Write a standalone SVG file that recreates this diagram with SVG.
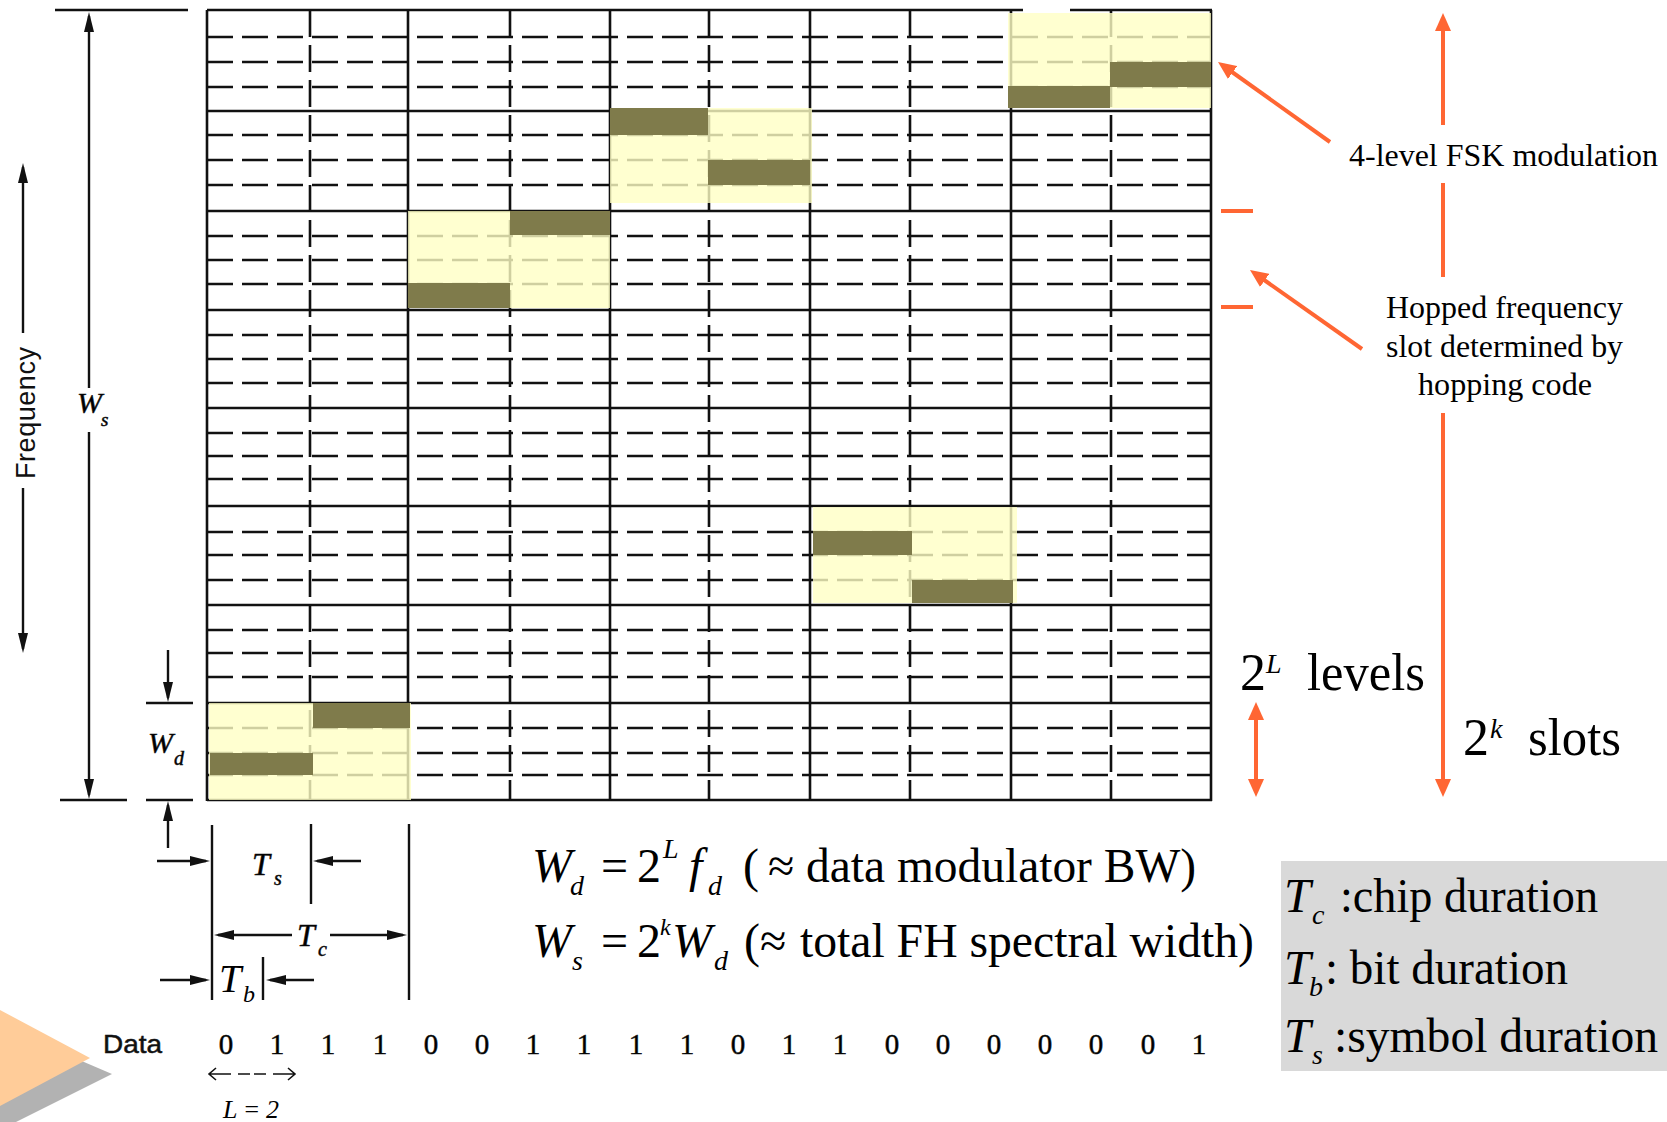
<svg xmlns="http://www.w3.org/2000/svg" width="1667" height="1122" viewBox="0 0 1667 1122">
  <style>
    .solid { stroke: #111; stroke-width: 2.6; fill: none; }
    .hdash { stroke: #111; stroke-width: 2.4; stroke-dasharray: 26 9; fill: none; }
    .vdash { stroke: #111; stroke-width: 2.6; stroke-dasharray: 27 8; fill: none; }
    .hl { fill: #FFFFC4; fill-opacity: 0.8; }
    .bar { fill: #7F7B4B; }
    .ink { stroke: #111; stroke-width: 2.4; fill: none; }
    .ink-arrow { stroke: #111; stroke-width: 2.4; fill: none; marker-end: url(#blackHead); }
    .org { stroke: #FF6633; stroke-width: 4; fill: none; }
    .org-arrow { stroke: #FF6633; stroke-width: 4; fill: none; marker-end: url(#orangeHead); }
    .serif { font-family: "Liberation Serif", "Times New Roman", serif; fill: #000; }
    .sans { font-family: "Liberation Sans", Arial, sans-serif; fill: #111; }
    .it { font-style: italic; }
    .scan { stroke: #111; stroke-width: 0.5; }
  </style>
  <defs>
    <marker id="blackHead" viewBox="0 0 20 10" refX="16" refY="5" markerWidth="20" markerHeight="10" markerUnits="userSpaceOnUse" orient="auto-start-reverse">
      <path d="M0,0 L20,5 L0,10 z" fill="#111"/>
    </marker>
    <marker id="orangeHead" viewBox="0 0 18 16" refX="12" refY="8" markerWidth="18" markerHeight="16" markerUnits="userSpaceOnUse" orient="auto-start-reverse">
      <path d="M0,0 L18,8 L0,16 z" fill="#FF6633"/>
    </marker>
  </defs>

  <rect width="1667" height="1122" fill="#fff"/>

  <!-- time/frequency grid: 8 hop slots x 10 symbol intervals -->
  <g id="grid">
    <g class="hdash">
      <path d="M207,37H1211M207,62H1211M207,87H1211"/>
      <path d="M207,135H1211M207,160H1211M207,185H1211"/>
      <path d="M207,236H1211M207,260H1211M207,284H1211"/>
      <path d="M207,335H1211M207,359H1211M207,383H1211"/>
      <path d="M207,433H1211M207,456H1211M207,479H1211"/>
      <path d="M207,532H1211M207,555H1211M207,580H1211"/>
      <path d="M207,630H1211M207,653H1211M207,677H1211"/>
      <path d="M207,728H1211M207,753H1211M207,775H1211"/>
    </g>
    <g class="solid">
      <path d="M207,10H1023M1070,10H1212"/>
      <path d="M207,111H1212M207,211H1212M207,310H1212M207,408H1212M207,506H1212M207,605H1212M207,703H1212M207,800H1212"/>
      <path d="M207,10V801M408,10V801M610,10V801M810,10V801M1011,10V801M1211,10V801"/>
    </g>
    <path class="vdash" d="M310,10V801M510,10V801M709,10V801M910,10V801M1111,10V801"/>
  </g>

  <!-- hopped FSK tones: one slot, two symbols per chip -->
  <g id="hop-1">
    <rect class="hl" x="209" y="703" width="202" height="97"/>
    <rect class="bar" x="210" y="753" width="103" height="22"/>
    <rect class="bar" x="313" y="703" width="97" height="25"/>
  </g>
  <g id="hop-2">
    <rect class="hl" x="408" y="211" width="202" height="97"/>
    <rect class="bar" x="408" y="283" width="102" height="25"/>
    <rect class="bar" x="510" y="211" width="100" height="24"/>
  </g>
  <g id="hop-3">
    <rect class="hl" x="610" y="108" width="202" height="95"/>
    <rect class="bar" x="610" y="108" width="98" height="27"/>
    <rect class="bar" x="708" y="160" width="102" height="25"/>
  </g>
  <g id="hop-4">
    <rect class="hl" x="813" y="507" width="204" height="96"/>
    <rect class="bar" x="813" y="531" width="99" height="24"/>
    <rect class="bar" x="912" y="580" width="101" height="23"/>
  </g>
  <g id="hop-5">
    <rect class="hl" x="1008" y="13" width="203" height="95"/>
    <rect class="bar" x="1008" y="86" width="102" height="22"/>
    <rect class="bar" x="1110" y="62" width="101" height="25"/>
  </g>

  <!-- frequency axis and bandwidth dimensions -->
  <g id="frequency-axis">
    <path class="ink-arrow" d="M23,333V167"/>
    <path class="ink-arrow" d="M23,488V649"/>
    <text class="sans" font-size="27" text-anchor="middle" textLength="132" transform="translate(35,413) rotate(-90)">Frequency</text>
  </g>
  <g id="ws-dimension">
    <path class="ink" d="M55,10H188M60,800H127"/>
    <path class="ink-arrow" d="M89,388V16"/>
    <path class="ink-arrow" d="M89,432V795"/>
    <text class="serif it scan" font-size="30" x="77" y="413">W</text>
    <text class="serif it scan" font-size="19" x="101" y="426">s</text>
  </g>
  <g id="wd-dimension">
    <path class="ink" d="M146,703H193M146,800H193"/>
    <path class="ink-arrow" d="M168,650V698"/>
    <path class="ink-arrow" d="M168,848V805"/>
    <text class="serif it scan" font-size="30" x="148" y="753">W</text>
    <text class="serif it scan" font-size="20" x="174" y="765">d</text>
  </g>

  <!-- time dimensions -->
  <g id="time-dimensions">
    <path class="ink" d="M212,825V1000M311,824V904M409,824V1000M263,957V1000"/>
    <path class="ink-arrow" d="M157,861H206"/>
    <path class="ink-arrow" d="M361,861H317"/>
    <path class="ink-arrow" d="M292,935H218"/>
    <path class="ink-arrow" d="M330,935H403"/>
    <path class="ink-arrow" d="M160,980H206"/>
    <path class="ink-arrow" d="M314,980H270"/>
    <text class="serif it scan" font-size="32" x="252" y="875">T</text>
    <text class="serif it scan" font-size="20" x="274" y="885">s</text>
    <text class="serif it scan" font-size="32" x="297" y="946">T</text>
    <text class="serif it scan" font-size="20" x="318" y="956">c</text>
    <text class="serif it" font-size="40" x="219" y="992">T</text>
    <text class="serif it" font-size="24" x="243" y="1002">b</text>
  </g>

  <!-- data bit sequence -->
  <g id="data-row">
    <text class="sans scan" font-size="26" x="103" y="1053" textLength="59" lengthAdjust="spacingAndGlyphs">Data</text>
    <g class="serif scan" font-size="29" text-anchor="middle">
      <text x="226" y="1054">0</text><text x="277" y="1054">1</text><text x="328" y="1054">1</text><text x="380" y="1054">1</text>
      <text x="431" y="1054">0</text><text x="482" y="1054">0</text><text x="533" y="1054">1</text><text x="584" y="1054">1</text>
      <text x="636" y="1054">1</text><text x="687" y="1054">1</text><text x="738" y="1054">0</text><text x="789" y="1054">1</text>
      <text x="840" y="1054">1</text><text x="892" y="1054">0</text><text x="943" y="1054">0</text><text x="994" y="1054">0</text>
      <text x="1045" y="1054">0</text><text x="1096" y="1054">0</text><text x="1148" y="1054">0</text><text x="1199" y="1054">1</text>
    </g>
    <path stroke="#111" stroke-width="1.6" fill="none" d="M209,1074H231M216,1068L209,1074L216,1080M238,1074H250M254,1074H266M273,1074H295M288,1068L295,1074L288,1080"/>
    <text class="serif it" font-size="26" x="223" y="1118" textLength="56">L = 2</text>
  </g>

  <!-- bandwidth formulas -->
  <g id="formulas" class="serif" font-size="48">
    <text class="it" x="532" y="882">W</text>
    <text class="it" font-size="28" x="570" y="895">d</text>
    <text x="601" y="882">=</text>
    <text x="637" y="882">2</text>
    <text class="it" font-size="28" x="663" y="858">L</text>
    <text class="it" x="689" y="882">f</text>
    <text class="it" font-size="28" x="708" y="895">d</text>
    <text x="743" y="882">(</text>
    <text x="768" y="882">≈</text>
    <text x="806" y="882" textLength="390" lengthAdjust="spacingAndGlyphs">data modulator BW)</text>

    <text class="it" x="532" y="957">W</text>
    <text class="it" font-size="28" x="572" y="970">s</text>
    <text x="601" y="957">=</text>
    <text x="637" y="957">2</text>
    <text class="it" font-size="24" x="660" y="935">k</text>
    <text class="it" x="672" y="957">W</text>
    <text class="it" font-size="28" x="714" y="970">d</text>
    <text x="744" y="957">(≈</text>
    <text x="800" y="957" textLength="454" lengthAdjust="spacingAndGlyphs">total FH spectral width)</text>
  </g>

  <!-- orange callouts on the right -->
  <g id="callouts">
    <path class="org-arrow" d="M1443,125V19"/>
    <path class="org" d="M1443,183V277"/>
    <path class="org-arrow" d="M1443,413V791"/>
    <path class="org-arrow" d="M1330,142L1222.9,65.5"/>
    <path class="org-arrow" d="M1362,349L1254.9,273.5"/>
    <path class="org" d="M1221,211H1253M1221,307H1253"/>
    <path class="org" d="M1256,708V791" style="marker-start:url(#orangeHead);marker-end:url(#orangeHead)"/>
  </g>
  <g id="label-fsk" class="serif" font-size="32">
    <text x="1349" y="166" textLength="309" lengthAdjust="spacingAndGlyphs">4-level FSK modulation</text>
  </g>
  <g id="label-hop" class="serif" font-size="32">
    <text x="1386" y="318" textLength="237" lengthAdjust="spacingAndGlyphs">Hopped frequency</text>
    <text x="1386" y="357" textLength="237" lengthAdjust="spacingAndGlyphs">slot determined by</text>
    <text x="1418" y="395" textLength="174" lengthAdjust="spacingAndGlyphs">hopping code</text>
  </g>
  <g id="label-levels" class="serif" font-size="52">
    <text x="1240" y="690">2</text>
    <text class="it" font-size="28" x="1266" y="673">L</text>
    <text x="1307" y="690" textLength="118" lengthAdjust="spacingAndGlyphs">levels</text>
  </g>
  <g id="label-slots" class="serif" font-size="52">
    <text x="1463" y="755">2</text>
    <text class="it" font-size="28" x="1490" y="738">k</text>
    <text x="1528" y="755" textLength="93" lengthAdjust="spacingAndGlyphs">slots</text>
  </g>

  <!-- legend of durations -->
  <g id="legend" class="serif" font-size="48">
    <rect x="1281" y="861" width="386" height="210" fill="#D9D9D9"/>
    <text class="it" x="1284" y="912">T</text>
    <text class="it" font-size="28" x="1312" y="924">c</text>
    <text x="1340" y="912" textLength="258" lengthAdjust="spacingAndGlyphs">:chip duration</text>
    <text class="it" x="1284" y="984">T</text>
    <text class="it" font-size="28" x="1309" y="996">b</text>
    <text x="1325" y="984" textLength="243" lengthAdjust="spacingAndGlyphs">: bit duration</text>
    <text class="it" x="1284" y="1052">T</text>
    <text class="it" font-size="28" x="1312" y="1064">s</text>
    <text x="1334" y="1052" textLength="324" lengthAdjust="spacingAndGlyphs">:symbol duration</text>
  </g>

  <!-- corner decoration -->
  <g id="corner-mark">
    <polygon points="0,1026 112,1074 0,1130" fill="#B2B2B2"/>
    <polygon points="0,1010 90,1058 0,1106" fill="#FFCC99"/>
  </g>
</svg>
